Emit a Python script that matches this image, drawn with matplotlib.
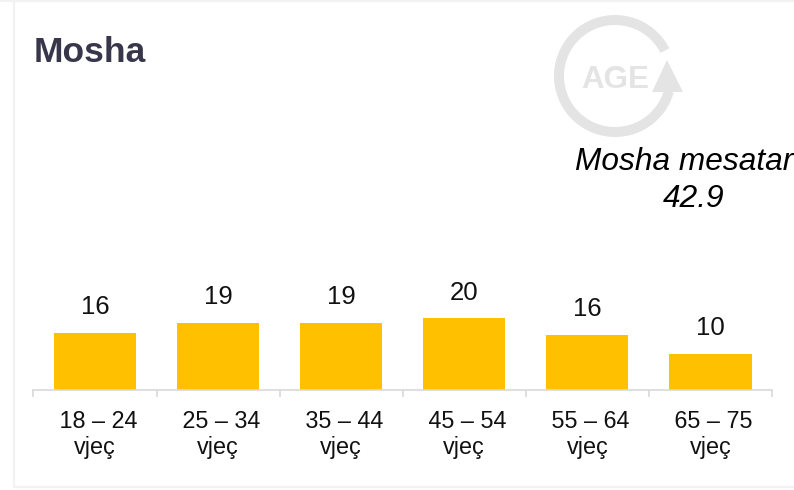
import matplotlib
matplotlib.use('Agg')
import matplotlib.pyplot as plt
from matplotlib.patches import Wedge, Polygon, Rectangle

plt.rcParams['font.family'] = ['Liberation Sans', 'DejaVu Sans']

categories = [' 18 – 24\nvjeç', ' 25 – 34\nvjeç', ' 35 – 44\nvjeç', ' 45 – 54\nvjeç', ' 55 – 64\nvjeç', ' 65 – 75\nvjeç']
heights = [16.2, 19.0, 19.0, 20.3, 15.6, 10.2]  # bars are not exactly the rounded labels
labels = ['16', '19', '19', '20', '16', '10']

W, H = 794, 490
fig = plt.figure(figsize=(W / 100, H / 100), dpi=100, facecolor='white')

# overlay in pixel coords for card, title and logo
bg = fig.add_axes([0, 0, 1, 1])
bg.set_xlim(0, W)
bg.set_ylim(H, 0)
bg.axis('off')

border = '#f2f2f2'
bg.add_patch(Rectangle((14, 1), W, 485.5, fc='white', ec=border, lw=1.6))
bg.add_patch(Rectangle((0, 0), W, 2, fc=border, ec='none'))

bg.text(34, 62, 'Mosha', fontsize=25.5, fontweight='bold', color='#38364a', va='baseline')

# logo
logo = '#e4e4e4'
bg.add_patch(Wedge((615, 76), 61, 16, 333, width=10, fc=logo, ec='none'))
bg.add_patch(Polygon([(652, 92), (683, 92), (667, 60)], fc=logo, ec='none'))
bg.text(615.5, 87.5, 'AGE', fontsize=22.5, fontweight='bold', color=logo, ha='center', va='baseline')

bg.text(575, 170, 'Mosha mesatar', fontsize=22.8, fontstyle='italic', color='black', va='baseline', clip_on=True)
bg.text(694, 207, '42.9', fontsize=22.8, fontstyle='italic', color='black', ha='center', va='baseline')

# bar chart
left, right, base, top = 33.5, 772, 390, 270
ax = fig.add_axes([left / W, 1 - base / H, (right - left) / W, (base - top) / H])
ax.patch.set_alpha(0)
x = list(range(len(heights)))
ax.bar(x, heights, width=0.667, color='#ffc000')
ax.set_xlim(-0.5, 5.5)
ax.set_ylim(0, (base - top) / 3.53)

for i, (h, t) in enumerate(zip(heights, labels)):
    ax.annotate(t, (i, h), xytext=(0, 13.4), textcoords='offset points', ha='center', va='baseline', fontsize=18.5, color='#111111')

for s in ['top', 'left', 'right']:
    ax.spines[s].set_visible(False)
ax.spines['bottom'].set_color('#d9d9d9')
ax.spines['bottom'].set_linewidth(1.2)
ax.set_yticks([])

ax.set_xticks(x)
ax.set_xticklabels(categories, fontsize=16.8, color='#111111', linespacing=1.18)
ax.tick_params(axis='x', which='major', length=0, pad=14.5)
ax.set_xticks([i - 0.5 for i in range(7)], minor=True)
ax.tick_params(axis='x', which='minor', length=5, width=1.2, color='#d9d9d9')

fig.savefig('out.png', dpi=100)
